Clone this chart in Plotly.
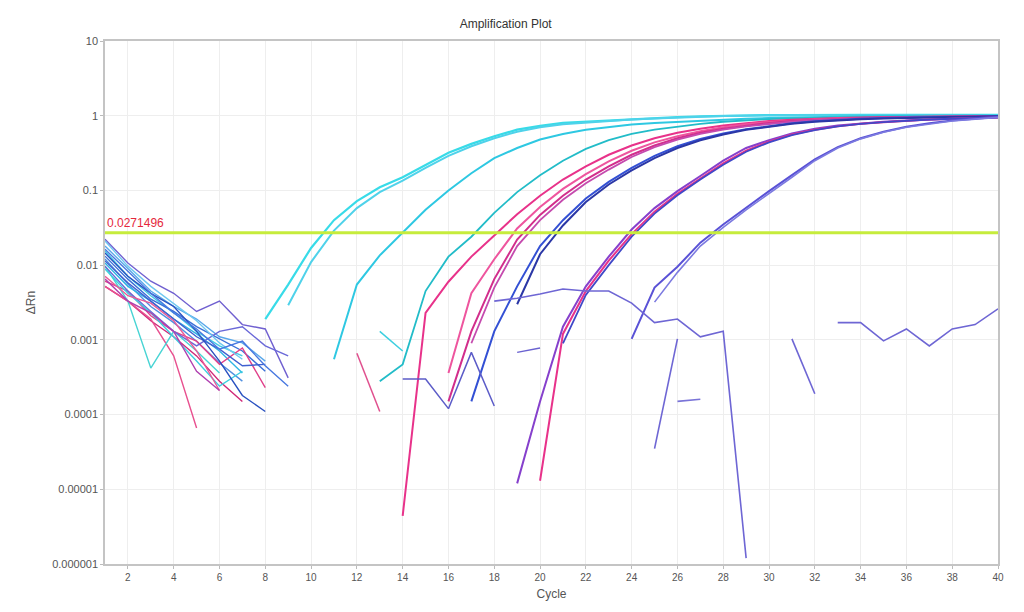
import math
import plotly.graph_objects as go

# Threshold
threshold = 0.0271496
threshold_label = "0.0271496"

x_ticks = list(range(2, 41, 2))
y_ticks = [10, 1, 0.1, 0.01, 0.001, 0.0001, 0.00001, 0.000001]
y_ticktext = ["10", "1", "0.1", "0.01", "0.001", "0.0001", "0.00001", "0.000001"]

# Amplification curves: (first cycle, dRn per cycle)
amp_a_start = 8
amp_a = [0.0019, 0.0055, 0.017, 0.040, 0.072, 0.11, 0.15, 0.22, 0.32, 0.42, 0.53,
         0.65, 0.73, 0.80, 0.83, 0.86, 0.90, 0.93, 0.96, 0.98, 1.0, 1.01,
         1.02, 1.02, 1.03, 1.02, 1.03, 1.03, 1.02, 1.03, 1.03, 1.03, 1.03]
amp_b_start = 9
amp_b = [0.0029, 0.011, 0.029, 0.058, 0.095, 0.135, 0.20, 0.29, 0.39, 0.50, 0.61,
         0.70, 0.77, 0.81, 0.85, 0.89, 0.92, 0.95, 0.97, 0.99, 1.0,
         1.01, 1.01, 1.02, 1.01, 1.02, 1.02, 1.02, 1.02, 1.02, 1.02, 1.02]
amp_c_start = 11
amp_c = [0.00055, 0.0055, 0.0135, 0.027, 0.055, 0.10, 0.17, 0.27, 0.37, 0.48,
         0.57, 0.65, 0.71, 0.76, 0.80, 0.83, 0.86, 0.89, 0.91, 0.93, 0.95,
         0.96, 0.97, 0.98, 0.99, 1.0, 1.0, 1.0, 1.01, 1.01]
amp_e_start = 13
amp_e = [0.00028, 0.00047, 0.0045, 0.013, 0.024, 0.05, 0.095, 0.16, 0.25, 0.36,
         0.47, 0.57, 0.65, 0.72, 0.78, 0.83, 0.87, 0.90, 0.92, 0.94, 0.95,
         0.96, 0.97, 0.98, 0.98, 0.99, 0.99, 0.99]
amp_p1_start = 14
amp_p1 = [0.0000044, 0.0023, 0.006, 0.013, 0.025, 0.048, 0.085, 0.14, 0.21, 0.30,
          0.40, 0.50, 0.59, 0.67, 0.74, 0.80, 0.85, 0.88, 0.91, 0.93, 0.95,
          0.96, 0.97, 0.98, 0.98, 0.99, 0.99]
amp_p2_start = 16
amp_p2 = [0.00036, 0.0042, 0.012, 0.031, 0.06, 0.105, 0.165, 0.245, 0.34, 0.44,
          0.53, 0.62, 0.70, 0.77, 0.82, 0.86, 0.89, 0.92, 0.94, 0.95, 0.96,
          0.97, 0.98, 0.98, 0.98]
amp_p3_start = 16
amp_p3 = [0.00015, 0.0013, 0.0065, 0.022, 0.047, 0.085, 0.14, 0.21, 0.30, 0.40,
          0.50, 0.59, 0.67, 0.74, 0.80, 0.85, 0.88, 0.91, 0.93, 0.95, 0.96,
          0.97, 0.97, 0.98, 0.98]
amp_p4_start = 17
amp_p4 = [0.0009, 0.005, 0.018, 0.04, 0.075, 0.125, 0.19, 0.28, 0.38, 0.48,
          0.57, 0.65, 0.72, 0.78, 0.83, 0.87, 0.90, 0.92, 0.94, 0.95, 0.96,
          0.97, 0.97, 0.97]
amp_b1_start = 17
amp_b1 = [0.00015, 0.0013, 0.0052, 0.018, 0.04, 0.078, 0.13, 0.20, 0.29, 0.39,
          0.49, 0.58, 0.66, 0.73, 0.79, 0.84, 0.88, 0.91, 0.93, 0.95, 0.96,
          0.97, 0.97, 0.98]
amp_b2_start = 19
amp_b2 = [0.003, 0.014, 0.034, 0.07, 0.12, 0.185, 0.27, 0.37, 0.47, 0.56, 0.65,
          0.72, 0.78, 0.83, 0.87, 0.90, 0.92, 0.94, 0.95, 0.96, 0.97, 0.98]
amp_q1_start = 19
amp_q1 = [0.000012, 0.00015, 0.0015, 0.0052, 0.013, 0.030, 0.058, 0.098, 0.156,
          0.25, 0.37, 0.47, 0.58, 0.67, 0.74, 0.79, 0.83, 0.86, 0.89, 0.91,
          0.93, 0.95]
amp_q2_start = 20
amp_q2 = [0.000013, 0.0012, 0.0045, 0.0115, 0.026, 0.052, 0.09, 0.145, 0.23,
          0.34, 0.45, 0.56, 0.65, 0.72, 0.78, 0.82, 0.86, 0.89, 0.91, 0.93, 0.95]
amp_q3_start = 21
amp_q3 = [0.0009, 0.0040, 0.010, 0.024, 0.049, 0.086, 0.14, 0.22, 0.33, 0.44,
          0.55, 0.64, 0.72, 0.78, 0.82, 0.86, 0.89, 0.91, 0.93, 0.95]
amp_r1_start = 24
amp_r1 = [0.00103, 0.0050, 0.0095, 0.020, 0.035, 0.059, 0.098, 0.16, 0.26, 0.38,
          0.50, 0.61, 0.71, 0.79, 0.86, 0.91, 0.96]
amp_r2_start = 25
amp_r2 = [0.0032, 0.008, 0.018, 0.032, 0.055, 0.092, 0.15, 0.25, 0.37, 0.49,
          0.60, 0.70, 0.78, 0.85, 0.90, 0.95]

# Noisy wells / fragments (first cycle, dRn)
noise_l1_start = 18
noise_l1 = [0.0033, 0.0036, 0.0041, 0.0048, 0.0045, 0.0045, 0.0031, 0.0017,
            0.0019, 0.0011, 0.0013, 0.0000012]
noise_s3_start = 25
noise_s3 = [0.000035, 0.00103]
noise_s4_start = 26
noise_s4 = [0.00015, 0.00016]
noise_s5_start = 31
noise_s5 = [0.00103, 0.00019]
noise_s6_start = 33
noise_s6 = [0.0017, 0.0017, 0.00097, 0.0014, 0.00083, 0.0014, 0.0016, 0.0026]
noise_n1_start = 14
noise_n1 = [0.00030, 0.00030, 0.00012, 0.00068, 0.00013]
noise_n2_start = 12
noise_n2 = [0.00066, 0.00011]
noise_n3_start = 13
noise_n3 = [0.0013, 0.00071]
noise_n4_start = 19
noise_n4 = [0.00068, 0.00078]

# Baseline region, cycles 1..n
base_1 = [0.0223, 0.0107, 0.0061, 0.0042, 0.0024, 0.0033, 0.0016, 0.0014, 0.00031]
base_2 = [0.018, 0.0089, 0.0045, 0.0028, 0.0019, 0.0011, 0.00091, 0.00052]
base_3 = [0.0155, 0.0071, 0.0039, 0.0023, 0.0013, 0.00083, 0.00061]
base_4 = [0.0132, 0.0065, 0.0035, 0.0024, 0.0015, 0.00103, 0.00071, 0.00038]
base_5 = [0.0121, 0.0056, 0.0028, 0.0017, 0.00096, 0.00049, 0.00028]
base_6 = [0.0107, 0.0052, 0.0033, 0.0019, 0.0012, 0.00071, 0.00036]
base_7 = [0.0061, 0.0045, 0.0021, 0.0013, 0.00096, 0.00047, 0.00078, 0.00023]
base_8 = [0.0052, 0.0033, 0.0018, 0.0011, 0.00061, 0.00028, 0.00015]
base_9 = [0.0052, 0.0033, 0.0019, 0.00061, 0.000066]
base_10 = [0.0097, 0.0033, 0.00042, 0.0013, 0.00071, 0.00036]
base_11 = [0.0097, 0.0045, 0.0024, 0.0013, 0.00083, 0.0013, 0.0015, 0.00083, 0.00061]
base_12 = [0.0114, 0.0058, 0.0033, 0.0019, 0.0011, 0.00075, 0.00045, 0.00047]
base_13 = [0.0089, 0.0042, 0.0023, 0.0011, 0.00052, 0.00024, 0.00038]
base_14 = [0.0071, 0.0039, 0.0031, 0.0018, 0.00071, 0.00021]
base_15 = [0.0145, 0.0071, 0.0042, 0.0028, 0.0013, 0.00052, 0.00018, 0.00011]
base_16 = [0.0065, 0.0033, 0.0023, 0.0013, 0.00038, 0.00021]
base_17 = [0.021, 0.0097, 0.0052, 0.0031, 0.0018, 0.00091, 0.00055]
base_18 = [0.0163, 0.0083, 0.0042, 0.0023, 0.0014, 0.00075, 0.00096, 0.00045, 0.00024]

CYAN = "#38dbe8"
CYAN2 = "#4fd2ea"
TEAL = "#22bcc8"
PINK = "#e8328a"
PINK2 = "#ee559e"
MAGENTA = "#d22e8c"
ORCHID = "#c54aae"
BLUE = "#3350d4"
NAVY = "#2b37a6"
PURPLE = "#8640cc"
VIOLET = "#5a52d6"
LAVENDER = "#7c7ae0"

curves = [
    (amp_a_start, amp_a, CYAN, 2.2),
    (amp_b_start, amp_b, CYAN2, 2.0),
    (amp_c_start, amp_c, "#2ec8e2", 2.0),
    (amp_e_start, amp_e, TEAL, 1.8),
    (amp_p1_start, amp_p1, PINK, 2.0),
    (amp_p2_start, amp_p2, PINK2, 2.0),
    (amp_p3_start, amp_p3, MAGENTA, 2.0),
    (amp_p4_start, amp_p4, ORCHID, 1.8),
    (amp_b1_start, amp_b1, BLUE, 2.0),
    (amp_b2_start, amp_b2, NAVY, 2.0),
    (amp_q1_start, amp_q1, PURPLE, 2.0),
    (amp_q2_start, amp_q2, PINK, 2.0),
    (amp_q3_start, amp_q3, "#4048c8", 1.8),
    (amp_r1_start, amp_r1, VIOLET, 2.0),
    (amp_r2_start, amp_r2, LAVENDER, 1.6),
    (noise_l1_start, noise_l1, "#6e66d4", 1.6),
    (noise_s3_start, noise_s3, "#6e66d4", 1.6),
    (noise_s4_start, noise_s4, "#7a74d8", 1.6),
    (noise_s5_start, noise_s5, "#6e66d4", 1.6),
    (noise_s6_start, noise_s6, "#6e66d4", 1.6),
    (noise_n1_start, noise_n1, "#5c5cc8", 1.5),
    (noise_n2_start, noise_n2, "#e0508e", 1.5),
    (noise_n3_start, noise_n3, "#3ccfe0", 1.5),
    (noise_n4_start, noise_n4, "#6a62d0", 1.5),
]

baselines = [
    (base_1, "#7060d0"), (base_2, "#5aa8ea"), (base_3, "#44cce4"),
    (base_4, "#3a70d8"), (base_5, "#5090e0"), (base_6, "#30b4e4"),
    (base_7, "#e0408a"), (base_8, "#d02878"), (base_9, "#e8508f"),
    (base_10, "#48d4d4"), (base_11, "#6a68d8"), (base_12, "#4060d0"),
    (base_13, "#3ccfe0"), (base_14, "#e85a98"), (base_15, "#2850c0"),
    (base_16, "#b040b0"), (base_17, "#70c8f0"), (base_18, "#4878e0"),
]

fig = go.Figure()

for vals, color in baselines:
    fig.add_trace(go.Scatter(
        x=list(range(1, len(vals) + 1)), y=vals, mode="lines",
        line=dict(color=color, width=1.4), hoverinfo="skip"))

for start, vals, color, w in curves:
    fig.add_trace(go.Scatter(
        x=list(range(start, start + len(vals))), y=vals, mode="lines",
        line=dict(color=color, width=w), hoverinfo="skip"))

# Threshold line
fig.add_trace(go.Scatter(
    x=[1, 40], y=[threshold, threshold], mode="lines",
    line=dict(color="#c6ec3c", width=3), hoverinfo="skip"))

# log axis: annotation y is given in log10 units
fig.add_annotation(
    x=1, y=math.log10(threshold), xref="x", yref="y", yshift=1,
    text=threshold_label, showarrow=False, xanchor="left", yanchor="bottom",
    font=dict(color="#e5283c", size=12))

# page body has an 8px margin, margins below offset for it
fig.update_layout(
    width=1024, height=612, showlegend=False,
    margin=dict(l=97, r=34, t=33, b=56),
    paper_bgcolor="white", plot_bgcolor="white",
    font=dict(family="Liberation Sans, Arial, sans-serif", size=11, color="#555555"),
    title=dict(text="Amplification Plot", x=0.486, xanchor="center",
               y=0.975, yanchor="middle",
               font=dict(size=12, color="#333333")),
    xaxis=dict(range=[1, 40], tickvals=x_ticks, ticks="outside", ticklen=3,
               tickcolor="#bbbbbb", showline=True, linecolor="#c4c4c4",
               linewidth=1.5, mirror=True, gridcolor="#eeeeee",
               zeroline=False, tickfont=dict(size=10),
               title=dict(text="Cycle", font=dict(size=12), standoff=8)),
    yaxis=dict(type="log", range=[-6, 1], tickvals=y_ticks,
               ticktext=y_ticktext, ticks="outside", ticklen=3,
               tickcolor="#bbbbbb", showline=True, linecolor="#c4c4c4",
               linewidth=1.5, mirror=True, gridcolor="#eeeeee",
               zeroline=False, tickfont=dict(size=11),
               title=dict(text="ΔRn", font=dict(size=12), standoff=14)),
)

fig.write_html("out.html")
